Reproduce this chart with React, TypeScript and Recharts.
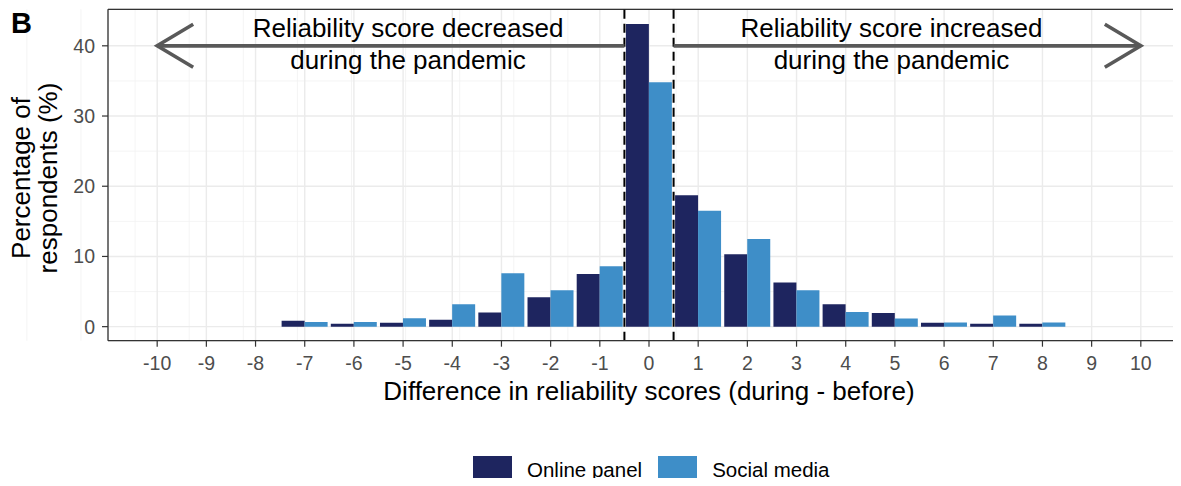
import React from "react";
import {
  BarChart,
  Bar,
  XAxis,
  YAxis,
  CartesianGrid,
  ReferenceLine,
  ReferenceDot,
  Legend,
} from "recharts";

// difference in reliability score (during - before)
const scoreDiffs = [-10, -9, -8, -7, -6, -5, -4, -3, -2, -1, 0, 1, 2, 3, 4, 5, 6, 7, 8, 9, 10];
// % of respondents
const onlinePanel = [0, 0, 0, 0.85, 0.4, 0.55, 1.0, 2.0, 4.2, 7.5, 43.1, 18.7, 10.3, 6.3, 3.2, 1.95, 0.55, 0.4, 0.4, 0, 0];
const socialMedia = [0, 0, 0, 0.65, 0.65, 1.2, 3.2, 7.6, 5.2, 8.6, 34.8, 16.5, 12.5, 5.2, 2.1, 1.15, 0.6, 1.6, 0.6, 0, 0];

const yTicks = [0, 10, 20, 30, 40];
const yMinor = [5, 15, 25, 35];
const xMinor = [-10.5, -9.5, -8.5, -7.5, -6.5, -5.5, -4.5, -3.5, -2.5, -1.5, -0.5, 0.5, 1.5, 2.5, 3.5, 4.5, 5.5, 6.5, 7.5, 8.5, 9.5, 10.5];
const cutoffs = [-0.5, 0.5];

const leftNote = ["Reliability score decreased", "during the pandemic"];
const rightNote = ["Reliability score increased", "during the pandemic"];
const xTitle = "Difference in reliability scores (during - before)";
const yTitle = ["Percentage of", "respondents (%)"];

const data = scoreDiffs.map((d, i) => ({
  diff: d,
  online: onlinePanel[i],
  social: socialMedia[i],
}));

const FONT = '"Liberation Sans", Arial, Helvetica, sans-serif';
const DARK = "#1e255f";
const LIGHT = "#3e8ec8";
const ARROW = "#595959";
const X_DOMAIN = [-11, 11];
const Y_DOMAIN = [-2.0, 45.2];

function arrowShape(tipAtStart: boolean) {
  return (p: any) => {
    const { x1, y1, x2, y2 } = p;
    const tipX = tipAtStart ? x1 : x2;
    const dir = tipAtStart ? 1 : -1;
    return (
      <g>
        <line x1={x1} y1={y1} x2={x2} y2={y2} stroke={ARROW} strokeWidth={3.8} />
        <polyline
          points={`${tipX + dir * 36},${y1 - 21.5} ${tipX},${y1} ${tipX + dir * 36},${y1 + 21.5}`}
          fill="none"
          stroke={ARROW}
          strokeWidth={3.6}
        />
      </g>
    );
  };
}

function noteShape(lines: string[]) {
  return (p: any) => (
    <g fontFamily={FONT} fontSize={26} fill="#000" textAnchor="middle">
      <text x={p.cx} y={p.cy - 8.5}>{lines[0]}</text>
      <text x={p.cx} y={p.cy + 23.5}>{lines[1]}</text>
    </g>
  );
}

function LegendContent(props: any) {
  const items = props.payload || [];
  return (
    <div style={{ display: "flex", paddingLeft: 473, fontFamily: FONT, fontSize: 20.5, color: "#000" }}>
      {items.map((it: any) => (
        <div key={it.value} style={{ display: "flex", alignItems: "flex-start", marginRight: 16 }}>
          <div style={{ width: 39, height: 39, background: it.color }} />
          <span style={{ marginLeft: 15, marginTop: 3.6, lineHeight: "20.5px", whiteSpace: "nowrap" }}>
            {it.value}
          </span>
        </div>
      ))}
    </div>
  );
}

export default function App() {
  const tickStyle = { fontSize: 19.5, fill: "#4d4d4d", fontFamily: FONT };
  return (
    <div
      style={{
        position: "relative",
        width: 1181,
        height: 486,
        margin: -8,
        overflow: "hidden",
        background: "#fff",
        fontFamily: FONT,
      }}
    >
      <div
        style={{
          position: "absolute",
          left: 11,
          top: 8.5,
          fontSize: 29,
          lineHeight: "29px",
          fontWeight: "bold",
          zIndex: 2,
        }}
      >
        B
      </div>
      <BarChart
        width={1200}
        height={486}
        data={data}
        margin={{ top: 9.3, right: 10, bottom: 75.3, left: 8 }}
        barCategoryGap="3%"
        barGap={0}
      >
        {/* minor grid, driven by two hidden axes */}
        <XAxis xAxisId="minor" type="number" domain={X_DOMAIN} allowDataOverflow ticks={xMinor} interval={0} hide />
        <YAxis yAxisId="minor" type="number" domain={Y_DOMAIN} allowDataOverflow ticks={yMinor} interval={0} hide />
        <CartesianGrid xAxisId="minor" yAxisId="minor" stroke="#f1f1f1" strokeWidth={0.8} />
        <CartesianGrid stroke="#ebebeb" strokeWidth={1.4} />
        <XAxis
          dataKey="diff"
          type="number"
          domain={X_DOMAIN}
          allowDataOverflow
          ticks={scoreDiffs}
          interval={0}
          height={70}
          tickSize={6}
          tickMargin={9.5}
          tick={tickStyle}
          tickLine={{ stroke: "#333333", strokeWidth: 1.2 }}
          axisLine={{ stroke: "#333333", strokeWidth: 1.3 }}
          label={(p: any) => {
            const vb = p.viewBox || { x: 108, y: 340.7, width: 1082 };
            return (
              <text
                x={vb.x + vb.width / 2}
                y={vb.y + 59}
                textAnchor="middle"
                fontSize={26}
                fontFamily={FONT}
                fill="#000"
              >
                {xTitle}
              </text>
            );
          }}
        />
        <YAxis
          type="number"
          domain={Y_DOMAIN}
          allowDataOverflow
          ticks={yTicks}
          interval={0}
          width={100}
          tickSize={6}
          tickMargin={7}
          tick={tickStyle}
          tickLine={{ stroke: "#333333", strokeWidth: 1.2 }}
          axisLine={{ stroke: "#333333", strokeWidth: 1.3 }}
          label={(p: any) => {
            const vb = p.viewBox || { x: 8, y: 9.3, height: 331.4 };
            const cy = vb.y + vb.height / 2 + 3;
            const x1 = vb.x + 21.5;
            const x2 = vb.x + 48.5;
            return (
              <g fontSize={26} fontFamily={FONT} fill="#000" textAnchor="middle">
                <text x={x1} y={cy} transform={`rotate(-90, ${x1}, ${cy})`}>
                  {yTitle[0]}
                </text>
                <text x={x2} y={cy} transform={`rotate(-90, ${x2}, ${cy})`}>
                  {yTitle[1]}
                </text>
              </g>
            );
          }}
        />
        <ReferenceLine y={45.2} stroke="#333333" strokeWidth={1.3} />
        <Bar dataKey="online" name="Online panel" fill={DARK} isAnimationActive={false} />
        <Bar dataKey="social" name="Social media" fill={LIGHT} isAnimationActive={false} />
        {cutoffs.map((c) => (
          <ReferenceLine key={c} x={c} stroke="#000" strokeWidth={2} strokeDasharray="9 5" />
        ))}
        <ReferenceLine
          segment={[
            { x: -10, y: 40 },
            { x: -0.5, y: 40 },
          ]}
          shape={arrowShape(true)}
        />
        <ReferenceLine
          segment={[
            { x: 0.5, y: 40 },
            { x: 10, y: 40 },
          ]}
          shape={arrowShape(false)}
        />
        <ReferenceDot x={-4.9} y={40} r={1} shape={noteShape(leftNote)} />
        <ReferenceDot x={4.93} y={40} r={1} shape={noteShape(rightNote)} />
        <Legend
          layout="horizontal"
          verticalAlign="middle"
          align="center"
          content={<LegendContent />}
          wrapperStyle={{ left: 0, top: 456, width: 1200, height: 40 }}
        />
      </BarChart>
    </div>
  );
}
